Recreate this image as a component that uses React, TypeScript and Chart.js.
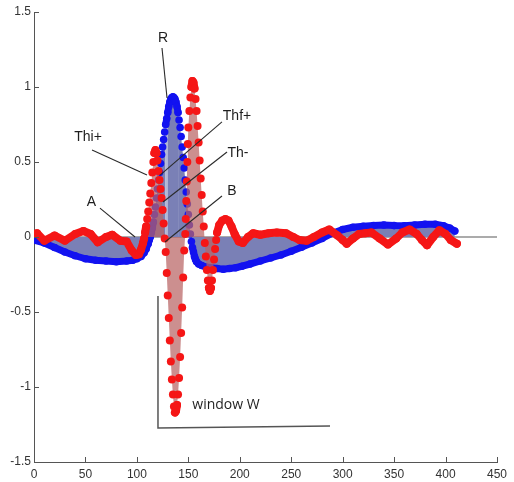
import { useEffect, useRef } from 'react';
import { Chart, registerables } from 'chart.js';

Chart.register(...registerables);

// ECG signal (blue)
const blueX = [0, 10, 20, 30, 40, 50, 60, 70, 80, 90, 96, 100, 104, 107, 109, 111, 112, 113, 114, 115, 116, 117, 118, 119, 120, 121, 122, 123, 124, 125, 126, 127, 128, 129, 130, 131, 132, 133, 134, 135, 136, 137, 138, 139, 140, 141, 142, 143, 144, 145, 146, 147, 148, 149, 150, 151, 152, 153, 154, 155, 156, 157, 158, 160, 163, 167, 172, 178, 184, 190, 196, 202, 210, 220, 230, 240, 250, 260, 270, 280, 290, 300, 310, 320, 330, 340, 350, 360, 370, 380, 390, 398, 404, 409];
const blueY = [-0.02, -0.04, -0.07, -0.1, -0.125, -0.145, -0.155, -0.16, -0.165, -0.16, -0.155, -0.145, -0.13, -0.105, -0.08, -0.045, -0.02, 0.0, 0.03, 0.06, 0.1, 0.15, 0.2, 0.26, 0.32, 0.38, 0.43, 0.49, 0.55, 0.6, 0.65, 0.7, 0.75, 0.79, 0.83, 0.87, 0.9, 0.92, 0.93, 0.935, 0.93, 0.92, 0.9, 0.87, 0.83, 0.78, 0.73, 0.67, 0.6, 0.53, 0.46, 0.38, 0.3, 0.22, 0.15, 0.08, 0.02, -0.03, -0.07, -0.1, -0.13, -0.15, -0.165, -0.18, -0.19, -0.2, -0.205, -0.21, -0.215, -0.21, -0.205, -0.195, -0.18, -0.16, -0.14, -0.12, -0.095, -0.068, -0.04, -0.01, 0.025, 0.05, 0.065, 0.072, 0.077, 0.08, 0.076, 0.075, 0.08, 0.085, 0.085, 0.075, 0.06, 0.04];

// Derivative signal (red)
const redX = [0, 3, 10, 20, 30, 40, 48, 55, 62, 70, 76, 84, 90, 95, 99, 102, 104, 106, 107, 108, 109, 110, 111, 112, 113, 114, 115, 116, 117, 118, 119, 120, 121, 122, 123, 124, 125, 126, 127, 128, 129, 130, 131, 132, 133, 134, 135, 136, 137, 138, 139, 140, 141, 142, 143, 144, 145, 146, 147, 147.5, 148, 148.5, 149, 149.5, 150, 151, 152, 153, 154, 155, 156, 157, 158, 159, 160, 161, 162, 163, 164, 165, 166, 167, 168, 169, 170, 171, 172, 173, 174, 175, 176, 177, 178, 180, 183, 186, 189, 192, 195, 199, 203, 208, 213, 220, 228, 236, 245, 252, 258, 265, 272, 280, 287, 295, 300, 304, 310, 316, 322, 328, 336, 344, 352, 358, 365, 372, 377, 382, 388, 394, 400, 405, 411];
const redY = [0.02, 0.025, -0.025, 0.01, -0.025, 0.02, 0.04, 0.02, -0.035, 0.0, 0.015, -0.025, -0.03, -0.09, -0.12, -0.115, -0.085, -0.04, -0.01, 0.03, 0.07, 0.12, 0.17, 0.23, 0.29, 0.36, 0.43, 0.5, 0.56, 0.58, 0.56, 0.51, 0.44, 0.38, 0.32, 0.26, 0.18, 0.09, -0.01, -0.1, -0.24, -0.39, -0.54, -0.69, -0.83, -0.95, -1.05, -1.13, -1.17, -1.16, -1.12, -1.05, -0.94, -0.8, -0.64, -0.47, -0.27, -0.09, 0.02, 0.12, 0.24, 0.37, 0.5, 0.62, 0.73, 0.84, 0.93, 1.0, 1.04, 1.03, 0.99, 0.92, 0.84, 0.74, 0.63, 0.51, 0.39, 0.28, 0.17, 0.07, -0.04, -0.13, -0.22, -0.29, -0.34, -0.36, -0.34, -0.29, -0.22, -0.15, -0.08, -0.02, 0.03, 0.08, 0.11, 0.12, 0.11, 0.07, 0.02, -0.03, -0.04, 0.0, 0.025, 0.015, 0.025, 0.03, 0.025, 0.0, -0.02, -0.025, 0.0, 0.03, 0.05, 0.01, -0.02, -0.045, -0.01, 0.02, 0.025, 0.03, -0.01, -0.05, -0.01, 0.03, 0.05, 0.02, -0.02, -0.055, 0.0, 0.045, 0.02, -0.02, -0.045];

// shaded window of the red signal
const redFillFrom = 107;
const redFillTo = 177;

const xTicks = [0, 50, 100, 150, 200, 250, 300, 350, 400, 450];
const yTicks = [-1.5, -1, -0.5, 0, 0.5, 1, 1.5];

// annotation labels (data coordinates)
const labelText = ['R', 'Thi+', 'Thf+', 'Th-', 'B', 'A'];
const labelX = [125.4, 52.5, 197.3, 198.3, 192.4, 55.9];
const labelY = [1.323, 0.663, 0.803, 0.557, 0.307, 0.23];
const leaderFromX = [124.4, 56.4, 182.7, 187.6, 182.7, 64.1];
const leaderFromY = [1.26, 0.58, 0.767, 0.567, 0.273, 0.193];
const leaderToX = [129.3, 109.8, 122.5, 125.4, 127.3, 98.2];
const leaderToY = [0.927, 0.413, 0.413, 0.233, -0.033, 0.0];

const windowText = 'window W';
const windowTextX = 186.6;
const windowTextY = -1.12;
const windowLineX = [120.5, 120.5, 287.7];
const windowLineY = [-0.393, -1.273, -1.26];

const BLUE = 'rgb(18,18,240)';
const BLUE_FILL = 'rgb(122,128,182)';
const RED = 'rgb(245,22,22)';
const RED_FILL = 'rgba(185,100,100,0.72)';
const FONT = "'Liberation Sans', Arial, sans-serif";

export default function App() {
  const ref = useRef<HTMLCanvasElement>(null);

  useEffect(() => {
    document.body.style.margin = '0';
    const toPts = (xs: number[], ys: number[]) => xs.map((x, i) => ({ x, y: ys[i] }));
    const blue = toPts(blueX, blueY);
    const red = toPts(redX, redY);
    const redFill = red.filter((p) => p.x >= redFillFrom && p.x <= redFillTo);

    // densely sampled steep parts show as separate dots; flat parts as a dotted band
    const segColor = (c: string) => (ctx: any) => {
      const dx = Math.abs(ctx.p1.x - ctx.p0.x);
      const dy = Math.abs(ctx.p1.y - ctx.p0.y);
      return dy > 11 || (dx < 2 && dy > 6) ? 'rgba(0,0,0,0)' : c;
    };

    const overlay = {
      id: 'overlay',
      beforeDatasetsDraw(chart: any) {
        const { ctx, chartArea, scales } = chart;
        const y0 = scales.y.getPixelForValue(0);
        ctx.save();
        ctx.strokeStyle = '#8f8f8f';
        ctx.lineWidth = 1.5;
        ctx.beginPath();
        ctx.moveTo(chartArea.left, y0);
        ctx.lineTo(chartArea.right, y0);
        ctx.stroke();
        ctx.restore();
      },
      afterDatasetsDraw(chart: any) {
        const { ctx, scales } = chart;
        const px = (v: number) => scales.x.getPixelForValue(v);
        const py = (v: number) => scales.y.getPixelForValue(v);
        ctx.save();
        ctx.strokeStyle = '#2a2a2a';
        ctx.lineWidth = 1.1;
        for (let i = 0; i < labelText.length; i++) {
          ctx.beginPath();
          ctx.moveTo(px(leaderFromX[i]), py(leaderFromY[i]));
          ctx.lineTo(px(leaderToX[i]), py(leaderToY[i]));
          ctx.stroke();
        }
        ctx.fillStyle = '#1e1e1e';
        ctx.font = `14px ${FONT}`;
        ctx.textAlign = 'center';
        ctx.textBaseline = 'middle';
        for (let i = 0; i < labelText.length; i++) {
          ctx.fillText(labelText[i], px(labelX[i]), py(labelY[i]));
        }
        ctx.strokeStyle = '#555';
        ctx.lineWidth = 1.5;
        ctx.beginPath();
        windowLineX.forEach((x, i) => {
          if (i === 0) ctx.moveTo(px(x), py(windowLineY[i]));
          else ctx.lineTo(px(x), py(windowLineY[i]));
        });
        ctx.stroke();
        ctx.font = "14px 'Open Sans', sans-serif";
        ctx.fillText(windowText, px(windowTextX), py(windowTextY));
        ctx.restore();
      },
      afterDraw(chart: any) {
        const { ctx, chartArea, scales } = chart;
        ctx.save();
        ctx.strokeStyle = '#555';
        ctx.lineWidth = 1;
        ctx.beginPath();
        xTicks.forEach((v) => {
          const x = Math.round(scales.x.getPixelForValue(v)) + 0.5;
          ctx.moveTo(x, chartArea.bottom);
          ctx.lineTo(x, chartArea.bottom - 5);
        });
        yTicks.forEach((v) => {
          const y = Math.round(scales.y.getPixelForValue(v)) + 0.5;
          ctx.moveTo(chartArea.left, y);
          ctx.lineTo(chartArea.left + 5, y);
        });
        ctx.stroke();
        ctx.restore();
      },
    };

    const tickFont = { family: FONT, size: 12 };

    const chart = new Chart(ref.current as HTMLCanvasElement, {
      type: 'line',
      data: {
        datasets: [
          {
            data: red,
            order: 1,
            borderColor: RED,
            borderWidth: 8,
            borderCapStyle: 'round',
            borderJoinStyle: 'round',
            segment: { borderColor: segColor(RED) },
            pointRadius: 4,
            pointBackgroundColor: RED,
            pointBorderWidth: 0,
            fill: false,
            tension: 0,
          },
          {
            data: redFill,
            order: 2,
            borderWidth: 0,
            borderColor: 'rgba(0,0,0,0)',
            pointRadius: 0,
            fill: 'origin',
            backgroundColor: RED_FILL,
            tension: 0,
          },
          {
            data: blue,
            order: 3,
            borderColor: BLUE,
            borderWidth: 7,
            borderCapStyle: 'round',
            borderJoinStyle: 'round',
            segment: { borderColor: segColor(BLUE) },
            pointRadius: 3.8,
            pointBackgroundColor: BLUE,
            pointBorderWidth: 0,
            fill: 'origin',
            backgroundColor: BLUE_FILL,
            tension: 0,
          },
        ] as any,
      },
      options: {
        responsive: false,
        animation: false,
        events: [],
        layout: { padding: { left: 0, right: 17, top: 12, bottom: 0 } },
        plugins: { legend: { display: false }, tooltip: { enabled: false } },
        scales: {
          x: {
            type: 'linear',
            min: 0,
            max: 450,
            afterBuildTicks: (s: any) => {
              s.ticks = xTicks.map((v) => ({ value: v }));
            },
            afterFit: (s: any) => {
              s.height = 20;
            },
            grid: { display: false, drawTicks: false },
            border: { display: true, color: '#555', width: 1 },
            ticks: {
              padding: 5,
              color: '#333',
              font: tickFont,
              maxRotation: 0,
              autoSkip: false,
              callback: (v: any) => String(v),
            },
          },
          y: {
            type: 'linear',
            min: -1.5,
            max: 1.5,
            afterBuildTicks: (s: any) => {
              s.ticks = yTicks.map((v) => ({ value: v }));
            },
            afterFit: (s: any) => {
              s.width = 34;
            },
            grid: { display: false, drawTicks: false },
            border: { display: true, color: '#555', width: 1 },
            ticks: {
              padding: 3,
              color: '#333',
              font: tickFont,
              autoSkip: false,
              callback: (v: any) => String(v),
            },
          },
        },
      } as any,
      plugins: [overlay],
    });

    return () => chart.destroy();
  }, []);

  return <canvas ref={ref} width={514} height={482} style={{ display: 'block' }} />;
}
